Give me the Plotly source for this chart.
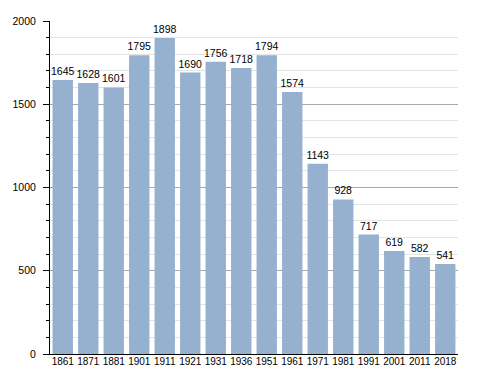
import plotly.graph_objects as go

years = ["1861", "1871", "1881", "1901", "1911", "1921", "1931", "1936",
         "1951", "1961", "1971", "1981", "1991", "2001", "2011", "2018"]
population = [1645, 1628, 1601, 1795, 1898, 1690, 1756, 1718,
              1794, 1574, 1143, 928, 717, 619, 582, 541]
y_ticks = [0, 500, 1000, 1500, 2000]

fig = go.Figure()
fig.add_trace(go.Bar(
    x=years, y=population,
    marker=dict(color="#96b1cf", line=dict(width=0)),
    text=[str(v) for v in population],
    textposition="outside",
    textangle=0,
    textfont=dict(family="Liberation Sans, Arial", size=10.5, color="#000"),
    cliponaxis=False,
    hoverinfo="skip",
))
fig.update_layout(
    width=488, height=373,
    margin=dict(l=50, r=30, t=21, b=19, autoexpand=False),
    paper_bgcolor="white", plot_bgcolor="white",
    bargap=0.2,
    showlegend=False,
    uniformtext=dict(minsize=10.5, mode="show"),
    font=dict(family="Liberation Sans, Arial", size=10.5, color="#000"),
)
fig.update_xaxes(
    type="category", automargin=False,
    showline=True, linecolor="#000", linewidth=1,
    ticks="", tickangle=0, tickfont=dict(size=10),
    ticklabelstandoff=-2,
    showgrid=False,
)
fig.update_yaxes(
    range=[0, 2000], automargin=False,
    tickvals=y_ticks,
    showline=True, linecolor="#000", linewidth=1,
    ticks="outside", ticklen=6, tickcolor="#000",
    ticklabelstandoff=5,
    gridcolor="#a8a8a8", gridwidth=1,
    minor=dict(dtick=100, ticks="outside", ticklen=3, tickcolor="#000",
               showgrid=True, gridcolor="#e4e4e4", gridwidth=1),
    tickfont=dict(size=10.5),
    zeroline=False,
)
fig.write_html("out.html", config={"displayModeBar": False},
               post_script="document.body.style.margin='0';")
